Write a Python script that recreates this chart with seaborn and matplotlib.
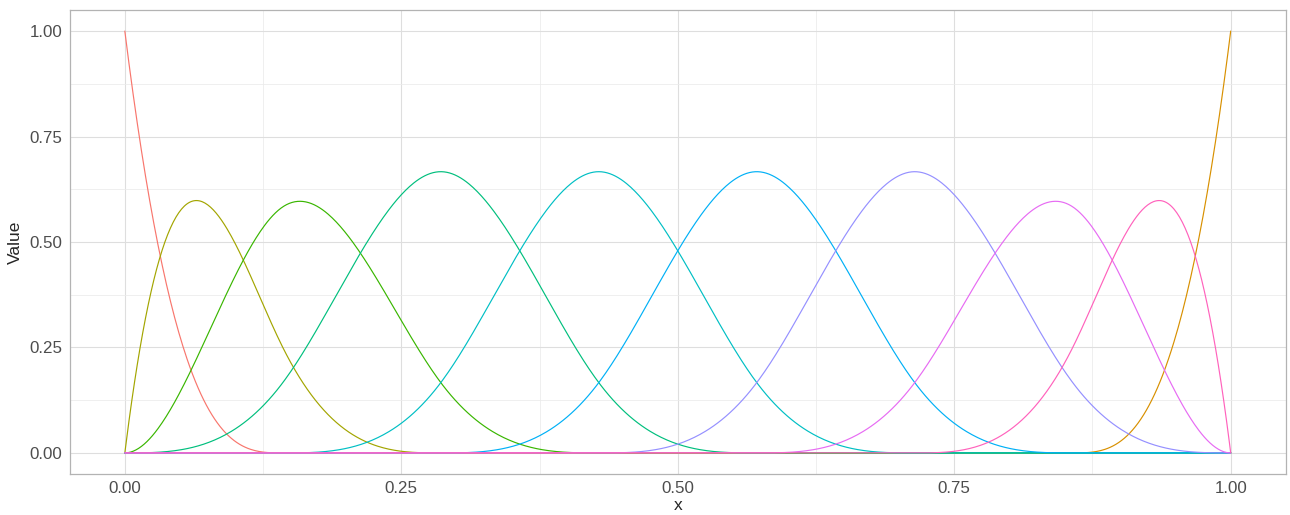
import numpy as np
import pandas as pd
import matplotlib
matplotlib.use("Agg")
import matplotlib.pyplot as plt
import seaborn as sns

# cubic B-spline basis on [0, 1], interior knots read from the peaks
degree = 3
interior_knots = [1/7, 2/7, 3/7, 4/7, 5/7, 6/7]
boundary = [0.0, 1.0]
basis_names = [str(i) for i in range(1, 11)]
# ggplot default hue colours, levels sorted as text ("1", "10", "2", ...)
level_order = ["1", "10", "2", "3", "4", "5", "6", "7", "8", "9"]
hue_colours = ["#F8766D", "#D89000", "#A3A500", "#39B600", "#00BF7D",
               "#00BFC4", "#00B0F6", "#9590FF", "#E76BF3", "#FF62BC"]


def bspline_basis(x, knots, k):
    t = np.array(knots)
    n = len(t) - k - 1
    B = np.zeros((len(x), len(t) - 1))
    for i in range(len(t) - 1):
        B[:, i] = (x >= t[i]) & (x < t[i + 1])
    # right end belongs to last non-empty interval
    last = np.max(np.nonzero(t[:-1] < t[1:]))
    B[x == t[-1], last] = 1.0
    for d in range(1, k + 1):
        newB = np.zeros((len(x), len(t) - 1 - d))
        for i in range(len(t) - 1 - d):
            left = t[i + d] - t[i]
            right = t[i + d + 1] - t[i + 1]
            term = np.zeros(len(x))
            if left > 0:
                term += (x - t[i]) / left * B[:, i]
            if right > 0:
                term += (t[i + d + 1] - x) / right * B[:, i + 1]
            newB[:, i] = term
        B = newB
    return B[:, :n]


x = np.linspace(0, 1, 801)
knots = [boundary[0]] * (degree + 1) + interior_knots + [boundary[1]] * (degree + 1)
B = bspline_basis(x, knots, degree)

df = pd.DataFrame(B, columns=basis_names)
df["x"] = x
long = df.melt(id_vars="x", var_name="basis", value_name="Value")

sns.set_style("white")
plt.rcParams["font.family"] = ["Liberation Sans", "DejaVu Sans"]

fig = plt.figure(figsize=(12.9, 5.15), dpi=100)
ax = fig.add_axes([0.0539, 0.0796, 0.943, 0.9010])

palette = dict(zip(level_order, hue_colours))
sns.lineplot(data=long, x="x", y="Value", hue="basis", hue_order=level_order,
             palette=palette, linewidth=0.85, legend=False, ax=ax)

ax.set_xlim(-0.05, 1.05)
ax.set_ylim(-0.05, 1.05)
ticks = [0, 0.25, 0.5, 0.75, 1.0]
ax.set_xticks(ticks)
ax.set_xticklabels(["0.00", "0.25", "0.50", "0.75", "1.00"])
ax.set_yticks(ticks)
ax.set_yticklabels(["0.00", "0.25", "0.50", "0.75", "1.00"])
minor = [0.125, 0.375, 0.625, 0.875]
ax.set_xticks(minor, minor=True)
ax.set_yticks(minor, minor=True)

ax.grid(True, which="major", color="#DEDEDE", linewidth=0.8)
ax.grid(True, which="minor", color="#EBEBEB", linewidth=0.55)
ax.set_axisbelow(True)
for s in ax.spines.values():
    s.set_color("#B3B3B3")
    s.set_linewidth(0.9)
ax.tick_params(which="major", length=2.6, width=0.8, color="#B3B3B3",
               labelsize=12.2, labelcolor="#4D4D4D", pad=2.5)
ax.tick_params(which="minor", length=0)
ax.set_xlabel("x", fontsize=12.5, labelpad=1.5)
ax.set_ylabel("Value", fontsize=12.5, labelpad=5)

fig.savefig("out.png", dpi=100)
